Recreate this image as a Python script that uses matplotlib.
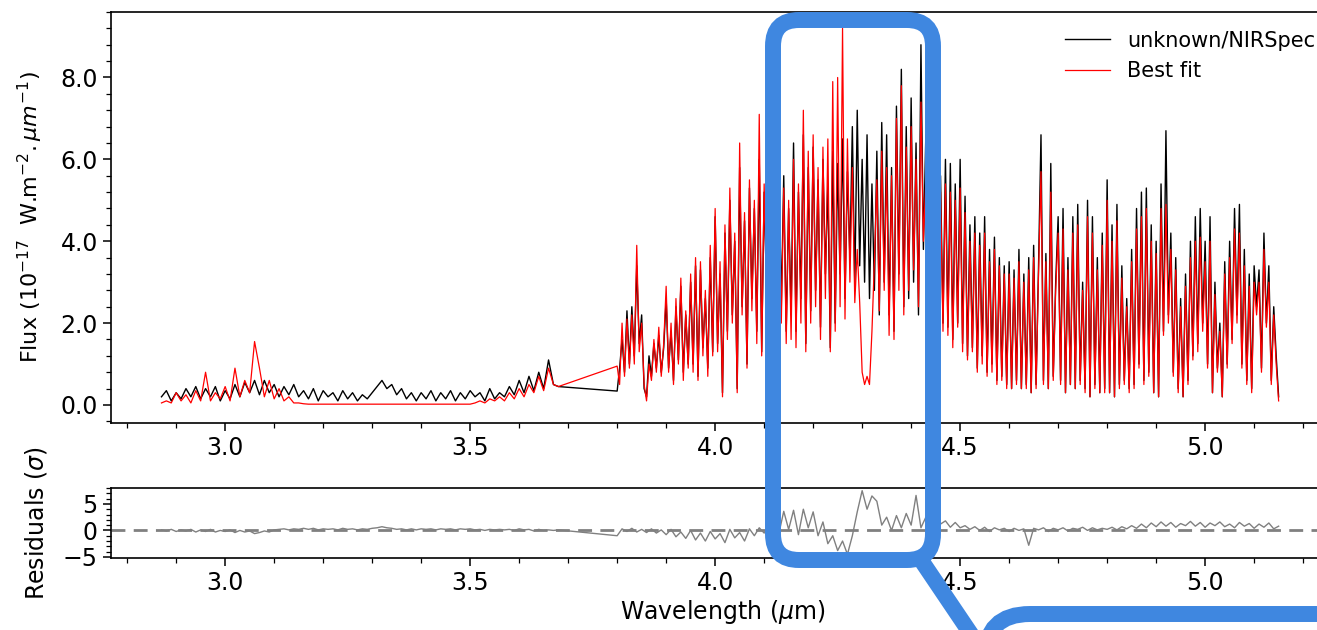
import numpy as np
import matplotlib
matplotlib.use("Agg")
import matplotlib.pyplot as plt
from matplotlib.ticker import AutoMinorLocator, FormatStrFormatter
from matplotlib.patches import FancyBboxPatch
from matplotlib.lines import Line2D
from matplotlib.transforms import IdentityTransform

# wavelength grids (micron): short-wavelength segment, then the long one after the gap
wl_a = np.round(np.arange(2.87, 3.685, 0.01), 3)
wl_b = np.round(np.arange(3.80, 5.1525, 0.005), 3)
wl_res_b = np.round(np.arange(3.80, 5.155, 0.01), 3)

# observed flux, 1e-17 W/m2/um
flux_a = [0.2, 0.35, 0.1, 0.3, 0.15, 0.4, 0.2, 0.45, 0.15, 0.4,
          0.2, 0.45, 0.1, 0.35, 0.15, 0.5, 0.2, 0.55, 0.3, 0.6,
          0.25, 0.6, 0.3, 0.5, 0.2, 0.45, 0.25, 0.5, 0.2, 0.35,
          0.15, 0.4, 0.1, 0.35, 0.2, 0.3, 0.1, 0.35, 0.15, 0.3,
          0.1, 0.25, 0.15, 0.3, 0.45, 0.6, 0.4, 0.5, 0.25, 0.4,
          0.15, 0.3, 0.1, 0.3, 0.15, 0.35, 0.1, 0.3, 0.15, 0.35,
          0.1, 0.3, 0.15, 0.35, 0.2, 0.3, 0.1, 0.4, 0.15, 0.3,
          0.2, 0.45, 0.25, 0.6, 0.3, 0.7, 0.35, 0.8, 0.4, 1.1,
          0.5, 0.45]
flux_b = [0.34, 0.9, 1.6, 0.8, 2.3, 1.0, 2.4, 1.2, 3.4, 1.5,
          2.2, 0.4, 0.2, 1.2, 0.7, 1.5, 0.9, 1.7, 0.8, 1.4,
          2.6, 0.9, 1.8, 0.6, 2.4, 1.1, 2.9, 0.8, 2.2, 1.0,
          3.0, 1.0, 3.4, 0.7, 3.3, 1.4, 2.6, 0.9, 3.6, 1.3,
          4.6, 1.5, 3.2, 0.3, 4.2, 1.8, 5.0, 2.2, 4.0, 0.4,
          5.8, 2.4, 4.5, 1.0, 5.3, 2.6, 4.8, 1.8, 6.0, 1.3,
          5.2, 2.8, 4.9, 1.5, 5.6, 3.0, 6.0, 2.4, 5.6, 1.8,
          4.8, 2.2, 6.4, 1.8, 5.2, 2.6, 6.6, 1.5, 5.8, 2.3,
          6.3, 2.8, 5.5, 1.9, 6.0, 3.2, 5.4, 1.4, 6.2, 2.0,
          5.9, 3.2, 6.5, 2.6, 5.7, 3.6, 6.8, 2.9, 7.2, 3.4,
          6.0, 3.0, 6.6, 2.6, 5.4, 2.8, 6.2, 2.2, 6.9, 3.0,
          6.6, 2.2, 5.8, 1.8, 7.3, 3.2, 8.2, 2.4, 6.8, 2.6,
          7.5, 3.0, 6.4, 2.2, 8.8, 3.8, 6.6, 2.6, 7.2, 2.3,
          7.3, 2.8, 5.6, 2.0, 6.0, 1.9, 5.9, 1.6, 5.4, 2.0,
          6.0, 1.5, 5.1, 1.2, 4.4, 1.4, 4.6, 0.9, 4.2, 1.2,
          4.6, 0.8, 3.8, 1.0, 4.1, 0.6, 3.6, 0.7, 3.4, 0.5,
          3.5, 0.4, 3.3, 0.6, 3.8, 0.4, 3.2, 0.5, 3.6, 0.3,
          3.9, 0.5, 3.4, 6.6, 0.6, 3.7, 0.4, 5.9, 0.7, 3.0,
          4.6, 0.6, 4.8, 0.3, 3.6, 0.5, 4.6, 0.4, 4.9, 0.6,
          3.0, 0.4, 5.0, 0.2, 4.6, 0.5, 3.6, 0.3, 4.2, 0.4,
          5.5, 0.3, 4.4, 0.2, 4.9, 0.5, 3.4, 0.6, 2.6, 0.4,
          3.8, 0.5, 4.8, 1.0, 5.2, 0.6, 5.3, 0.8, 4.4, 0.3,
          4.0, 0.2, 5.4, 1.8, 6.7, 2.2, 4.2, 0.8, 3.6, 0.4,
          2.6, 0.2, 3.2, 0.6, 4.0, 1.2, 4.6, 1.5, 4.8, 2.0,
          4.0, 1.0, 4.6, 0.3, 3.0, 0.9, 2.0, 0.2, 3.5, 1.0,
          4.0, 1.6, 4.8, 2.2, 4.9, 1.0, 3.8, 0.6, 3.2, 0.4,
          3.4, 2.4, 3.3, 0.9, 4.2, 2.0, 3.4, 0.6, 2.4, 1.2,
          0.2]

# best fit model
fit_a = [0.05, 0.1, 0.05, 0.3, 0.1, 0.25, 0.05, 0.35, 0.1, 0.8,
         0.1, 0.3, 0.15, 0.45, 0.1, 0.9, 0.2, 0.6, 0.3, 1.55,
         0.9, 0.2, 0.6, 0.15, 0.4, 0.1, 0.2, 0.05, 0.05, 0.03,
         0.02, 0.02, 0.02, 0.02, 0.02, 0.02, 0.02, 0.02, 0.02, 0.02,
         0.02, 0.02, 0.02, 0.02, 0.02, 0.02, 0.02, 0.02, 0.02, 0.02,
         0.02, 0.02, 0.02, 0.02, 0.02, 0.02, 0.02, 0.02, 0.02, 0.02,
         0.02, 0.02, 0.02, 0.02, 0.05, 0.1, 0.05, 0.15, 0.1, 0.2,
         0.1, 0.3, 0.15, 0.4, 0.2, 0.5, 0.3, 0.7, 0.35, 0.9,
         0.5, 0.45]
fit_b = [0.95, 0.5, 2.0, 0.7, 2.1, 0.9, 2.2, 1.0, 3.9, 1.3,
         2.0, 0.5, 0.1, 1.0, 0.6, 1.6, 0.8, 1.9, 0.7, 1.5,
         2.9, 0.8, 2.0, 0.5, 2.6, 1.0, 3.1, 0.6, 2.3, 0.9,
         3.2, 0.8, 3.6, 0.6, 3.5, 1.2, 2.8, 0.7, 3.9, 1.2,
         4.8, 1.3, 3.5, 0.2, 4.4, 1.6, 5.3, 2.0, 4.2, 0.3,
         6.4, 2.2, 4.7, 0.9, 5.5, 2.3, 5.0, 1.5, 7.1, 1.2,
         5.4, 2.5, 5.0, 1.2, 5.8, 2.7, 5.6, 2.0, 5.3, 1.5,
         5.0, 1.6, 6.0, 1.4, 5.4, 2.0, 7.2, 1.3, 6.2, 2.0,
         6.6, 2.4, 5.8, 1.6, 6.3, 2.6, 6.5, 1.3, 7.9, 1.8,
         8.0, 2.4, 9.2, 2.1, 6.5, 3.0, 5.8, 2.5, 3.8, 2.5,
         0.8, 0.5, 0.7, 0.5, 1.8, 3.5, 5.5, 2.3, 6.2, 2.8,
         5.8, 1.7, 5.6, 1.6, 7.0, 2.8, 7.8, 2.2, 6.3, 2.8,
         6.8, 3.3, 6.0, 2.4, 7.4, 4.0, 5.5, 2.4, 6.6, 2.5,
         6.4, 2.6, 5.2, 1.8, 5.4, 1.7, 5.2, 1.4, 5.0, 1.9,
         5.3, 1.3, 4.7, 1.1, 4.0, 1.3, 4.2, 0.8, 3.9, 1.0,
         4.2, 0.7, 3.5, 0.8, 3.8, 0.5, 3.4, 0.6, 3.2, 0.4,
         3.2, 0.4, 3.1, 0.5, 3.5, 0.4, 3.0, 0.4, 3.3, 0.3,
         3.6, 0.4, 3.2, 5.7, 0.5, 3.5, 0.4, 5.2, 0.6, 2.8,
         4.2, 0.5, 4.3, 0.3, 3.3, 0.5, 4.2, 0.4, 4.4, 0.5,
         2.8, 0.3, 4.6, 0.2, 4.2, 0.4, 3.3, 0.3, 3.9, 0.3,
         5.0, 0.3, 4.0, 0.2, 4.5, 0.4, 3.1, 0.5, 2.4, 0.3,
         3.5, 0.4, 4.3, 0.9, 4.6, 0.5, 4.8, 0.7, 4.0, 0.3,
         3.7, 0.2, 4.8, 1.7, 4.9, 2.0, 3.8, 0.7, 3.3, 0.3,
         2.4, 0.2, 2.9, 0.5, 3.6, 1.1, 4.0, 1.3, 4.1, 1.8,
         3.5, 0.9, 4.0, 0.3, 2.7, 0.8, 1.8, 0.2, 3.2, 0.9,
         3.6, 1.5, 4.3, 2.0, 4.2, 0.9, 3.4, 0.5, 2.9, 0.3,
         3.0, 2.2, 3.0, 0.8, 3.8, 1.9, 3.0, 0.5, 2.2, 1.0,
         0.1]

# residuals in sigma
res_a = [0.1, -0.1, 0.2, -0.2, 0.1, -0.1, 0.2, -0.3, 0.1, -0.2,
         0.2, -0.3, 0.0, -0.2, 0.1, -0.4, 0.0, -0.3, -0.1, -0.6,
         -0.4, -0.1, -0.3, 0.1, 0.2, 0.3, 0.1, 0.3, 0.2, 0.4,
         0.2, 0.4, 0.1, 0.3, 0.2, 0.3, 0.1, 0.4, 0.2, 0.3,
         0.1, 0.3, 0.2, 0.4, 0.5, 0.7, 0.5, 0.4, 0.2, 0.3,
         0.1, 0.3, 0.1, 0.3, 0.2, 0.3, 0.1, 0.3, 0.2, 0.3,
         0.1, 0.3, 0.2, 0.3, 0.1, 0.2, 0.0, 0.2, 0.1, 0.2,
         0.1, 0.2, 0.0, 0.3, 0.1, 0.2, -0.1, 0.2, 0.0, 0.1,
         0.0, 0.1]
res_b = [-1.0, 0.3, -0.2, 0.4, -0.3, 0.2, -0.4, 0.3, -0.5, 0.1,
         -0.8, 0.2, -1.2, -0.3, -1.5, 0.0, -1.8, -0.5, -2.0, -0.2,
         -1.6, -0.6, -2.3, 0.2, -1.4, -0.4, -2.0, 0.3, -1.0, 0.5,
         -0.5, 0.8, 2.2, -0.6, 3.6, 0.2, 3.8, -0.8, 4.0, 0.5,
         3.5, -1.0, 1.6, -2.5, -1.0, -3.8, -2.0, -4.5, -1.0, 3.5,
         7.5, 4.0, 6.5, 5.5, 1.0, 2.5, 0.0, 2.8, 0.5, 3.2,
         1.0, 6.6, 0.5, 2.5, 0.8, 2.8, 1.2, 1.8, 0.6, 1.5,
         0.5, 0.9, 0.2, 0.7, 0.0, 0.6, -0.2, 0.5, 0.1, 0.4,
         -0.2, 0.4, 0.0, 0.3, -2.8, 0.4, 0.1, 0.5, -0.2, 0.4,
         0.1, 0.5, -0.1, 0.4, 0.2, 0.6, 0.0, 0.5, 0.1, 0.4,
         0.2, 0.6, 0.1, 0.7, 0.3, 0.9, 0.4, 1.2, 0.5, 1.4,
         0.7, 1.6, 0.8, 1.5, 0.6, 1.3, 0.9, 1.7, 0.8, 1.5,
         0.6, 1.4, 0.9, 1.6, 0.7, 1.2, 0.5, 1.5, 0.8, 1.3,
         0.4, 1.2, 0.6, 1.4, 0.3, 0.8]

wl = np.concatenate([wl_a, wl_b])
flux = np.concatenate([flux_a, flux_b])
fit = np.concatenate([fit_a, fit_b])
wl_res = np.concatenate([wl_a, wl_res_b])
res = np.concatenate([res_a, res_b])

W, H = 1317, 630
fig = plt.figure(figsize=(W / 100, H / 100), dpi=100)

# axes boxes in pixels (left, top, right, bottom); right edge runs off the crop
def box(l, t, r, b):
    return [l / W, 1 - b / H, (r - l) / W, (b - t) / H]

ax = fig.add_axes(box(111, 12, 1334, 423))
axr = fig.add_axes(box(111, 488, 1334, 558))

ax.plot(wl, flux, color='k', lw=1.0, label='unknown/NIRSpec')
ax.plot(wl, fit, color='red', lw=0.9, label='Best fit')
ax.set_xlim(2.767, 5.263)
ax.set_ylim(-0.44, 9.6)
ax.set_yticks([0, 2, 4, 6, 8])
ax.yaxis.set_major_formatter(FormatStrFormatter('%.1f'))
ax.xaxis.set_major_formatter(FormatStrFormatter('%.1f'))
ax.set_ylabel(r'Flux (10$^{-17}$  W.m$^{-2}.\mu m^{-1}$)', fontsize=16)
ax.legend(loc='upper right', frameon=False, fontsize=15, handlelength=2.2)

axr.plot(wl_res, res, color='grey', lw=1.0)
axr.axhline(0, color='grey', ls='--', lw=2, dashes=(5, 3))
axr.set_xlim(2.767, 5.263)
axr.set_ylim(-5.2, 8.0)
axr.set_yticks([-5, 0, 5])
axr.xaxis.set_major_formatter(FormatStrFormatter('%.1f'))
axr.set_xlabel(r'Wavelength ($\mu$m)', fontsize=17, labelpad=2)
axr.set_ylabel(r'Residuals ($\sigma$)', fontsize=17)

for a in (ax, axr):
    a.xaxis.set_minor_locator(AutoMinorLocator(5))
    a.yaxis.set_minor_locator(AutoMinorLocator(5))
    a.tick_params(which='major', labelsize=17, length=6, width=1.1)
    a.tick_params(which='minor', length=3.5, width=0.9)
    for s in a.spines.values():
        s.set_linewidth(1.2)

ax.yaxis.set_label_coords(-0.054, 0.5)
axr.yaxis.set_label_coords(-0.051, 0.5)

# blue highlight drawn on top, in image pixel coordinates (y from top)
blue = '#3f87e0'
pix = IdentityTransform()
lw_blue = 11.5
fig.add_artist(FancyBboxPatch((773, H - 560), 160, 540,
                              boxstyle='round,pad=0,rounding_size=26',
                              fill=False, ec=blue, lw=lw_blue, transform=pix))
fig.add_artist(Line2D([921, 975], [H - 560, H - 640], color=blue, lw=lw_blue,
                      transform=pix))
fig.add_artist(FancyBboxPatch((985, H - 940), 700, 940 - 614,
                              boxstyle='round,pad=0,rounding_size=45',
                              fill=False, ec=blue, lw=lw_blue, transform=pix))

fig.savefig('out.png', dpi=100)
